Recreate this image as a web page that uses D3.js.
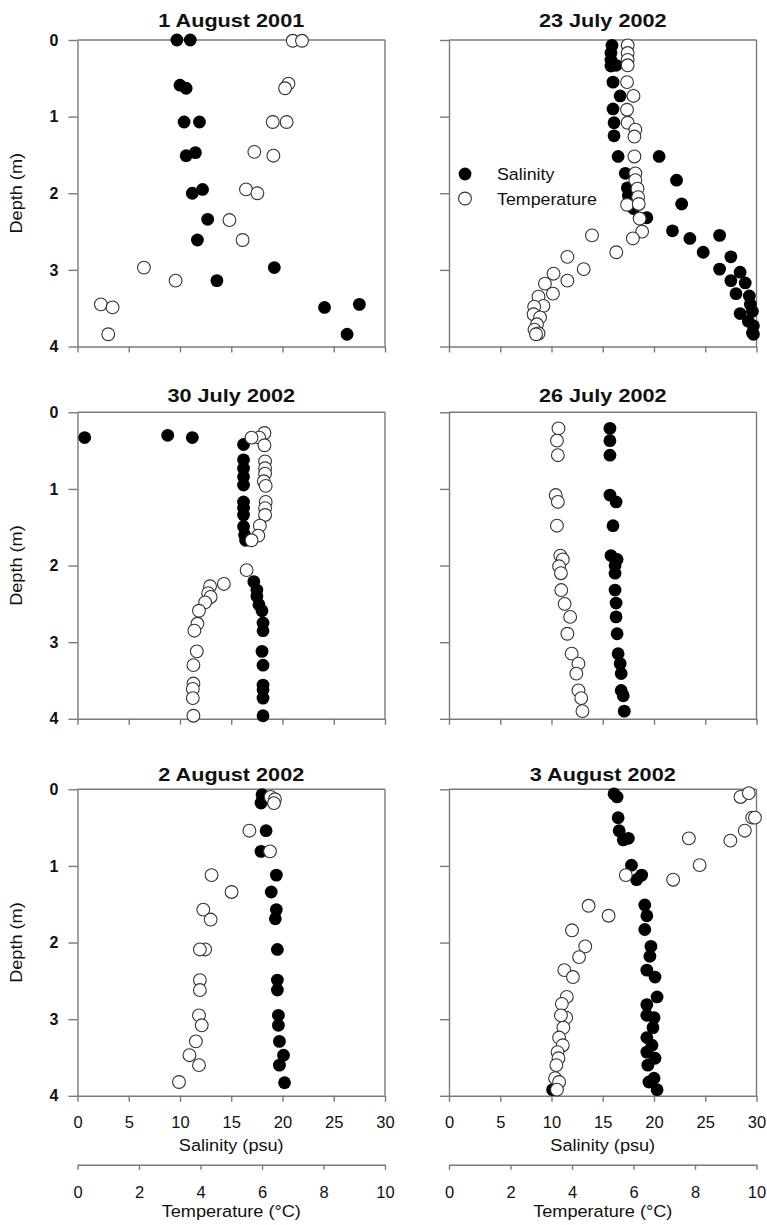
<!DOCTYPE html>
<html>
<head>
<meta charset="utf-8">
<script src="https://cdn.jsdelivr.net/npm/d3@7"></script>
<style>
  body { margin: 0; background: #fff; }
  text { font-family: "Liberation Sans", Arial, sans-serif; fill: #111; }
</style>
</head>
<body>
<div id="graph"></div>
<script>
// profile data: [value, depth (m)] — salinity in psu, temperature in °C
const aug01Sal = [[9.7,0.0],[11.0,0.0],[10.0,0.59],[10.6,0.63],[10.4,1.07],[11.9,1.07],[10.6,1.51],[11.5,1.47],
  [11.2,2.0],[12.2,1.95],[12.7,2.34],[11.7,2.61],[13.6,3.14],[19.2,2.97],[24.1,3.49],[27.5,3.45],[26.3,3.84]];
const aug01Temp = [[7.0,0.01],[7.3,0.01],[6.86,0.57],[6.75,0.63],[6.35,1.07],[6.8,1.07],[5.75,1.46],[6.37,1.51],
  [5.48,1.95],[5.85,2.0],[4.94,2.35],[5.37,2.61],[2.16,2.97],[3.19,3.14],[0.76,3.45],[1.14,3.49],[1.0,3.84]];

const jul23Sal = [[15.9,0.07],[15.8,0.17],[15.8,0.26],[16.3,0.33],[15.8,0.34],[16.0,0.55],[16.7,0.73],[16.0,0.9],
  [16.1,1.08],[16.1,1.25],[16.5,1.52],[20.5,1.52],[17.2,1.74],[22.2,1.83],[17.4,1.93],[17.5,2.03],[22.7,2.14],
  [18.0,2.2],[19.3,2.32],[21.8,2.49],[23.5,2.59],[26.4,2.55],[24.8,2.77],[27.5,2.83],[26.4,2.99],[28.4,3.03],
  [27.5,3.14],[28.9,3.17],[28.0,3.31],[29.3,3.34],[29.4,3.45],[28.4,3.57],[29.6,3.54],[29.2,3.67],[29.7,3.73],
  [29.6,3.82],[29.7,3.84]];
const jul23Temp = [[5.81,0.07],[5.81,0.17],[5.81,0.26],[5.81,0.33],[5.79,0.55],[6.0,0.73],[5.79,0.91],[5.81,1.08],
  [6.06,1.17],[6.03,1.26],[6.03,1.52],[6.06,1.74],[6.06,1.83],[6.13,1.94],[6.15,2.05],[5.79,2.15],[6.17,2.14],
  [6.2,2.33],[6.28,2.5],[5.98,2.59],[4.65,2.55],[5.44,2.77],[3.85,2.83],[4.38,2.99],[3.4,3.05],[3.85,3.14],
  [3.12,3.18],[3.38,3.31],[2.91,3.35],[3.07,3.47],[2.77,3.48],[2.75,3.58],[2.96,3.62],[2.86,3.71],[2.78,3.78],
  [2.91,3.83],[2.83,3.84]];

const jul30Sal = [[0.7,0.33],[8.8,0.3],[11.2,0.33],[16.2,0.42],[16.2,0.62],[16.2,0.73],[16.2,0.84],[16.2,0.95],
  [16.2,1.17],[16.2,1.25],[16.2,1.34],[16.2,1.49],[16.3,1.6],[16.4,1.67],[17.2,2.21],[17.5,2.32],[17.5,2.4],
  [17.7,2.51],[18.0,2.59],[18.1,2.75],[18.1,2.85],[18.0,3.12],[18.1,3.3],[18.1,3.56],[18.1,3.62],[18.1,3.73],
  [18.1,3.96]];
const jul30Temp = [[6.08,0.27],[5.91,0.33],[5.66,0.33],[6.08,0.43],[6.1,0.64],[6.1,0.73],[6.1,0.8],[6.06,0.9],
  [6.12,0.96],[6.12,1.17],[6.1,1.25],[6.1,1.34],[5.93,1.48],[5.88,1.61],[5.66,1.67],[5.5,2.06],[4.76,2.24],
  [4.31,2.27],[4.25,2.36],[4.33,2.41],[4.15,2.48],[3.95,2.59],[3.9,2.76],[3.8,2.85],[3.88,3.12],[3.77,3.3],
  [3.77,3.54],[3.75,3.61],[3.75,3.73],[3.77,3.96]];

const jul26Sal = [[15.7,0.21],[15.7,0.37],[15.7,0.56],[15.7,1.08],[16.3,1.17],[16.0,1.48],[15.8,1.87],[16.4,1.92],
  [16.2,2.0],[16.2,2.1],[16.2,2.32],[16.3,2.49],[16.3,2.67],[16.4,2.89],[16.5,3.15],[16.7,3.28],[16.8,3.41],
  [16.8,3.63],[17.0,3.7],[17.1,3.9]];
const jul26Temp = [[3.56,0.21],[3.51,0.37],[3.54,0.56],[3.47,1.08],[3.54,1.17],[3.51,1.48],[3.62,1.87],[3.7,1.92],
  [3.58,2.01],[3.64,2.1],[3.65,2.32],[3.76,2.5],[3.94,2.67],[3.85,2.89],[3.99,3.15],[4.21,3.28],[4.14,3.41],
  [4.21,3.63],[4.3,3.73],[4.34,3.9]];

const aug02Sal = [[18.0,0.07],[18.0,0.16],[17.9,0.18],[18.4,0.54],[17.9,0.81],[19.4,1.12],[18.9,1.34],[19.4,1.57],
  [19.3,1.69],[19.5,2.09],[19.5,2.49],[19.5,2.62],[19.6,2.95],[19.6,3.08],[19.7,3.29],[20.1,3.47],[19.7,3.6],
  [20.2,3.83]];
const aug02Temp = [[6.28,0.1],[6.42,0.13],[6.39,0.18],[5.59,0.54],[6.26,0.81],[4.36,1.12],[5.01,1.34],[4.09,1.57],
  [4.33,1.7],[4.15,2.09],[3.98,2.09],[3.98,2.49],[3.98,2.62],[3.95,2.95],[4.04,3.08],[3.85,3.29],[3.64,3.47],
  [3.95,3.6],[3.3,3.82]];

const aug03Sal = [[16.1,0.06],[16.4,0.1],[16.5,0.37],[16.6,0.54],[17.0,0.66],[17.5,0.64],[17.8,0.99],[18.8,1.12],
  [18.3,1.18],[19.1,1.51],[19.3,1.65],[19.1,1.83],[19.7,2.05],[19.6,2.18],[19.3,2.36],[20.1,2.45],[20.3,2.71],
  [19.3,2.81],[19.3,2.95],[20.0,2.98],[19.9,3.11],[19.3,3.24],[19.8,3.34],[19.3,3.43],[20.1,3.51],[19.4,3.6],
  [20.0,3.77],[19.5,3.82],[20.3,3.92],[10.1,3.92]];
const aug03Temp = [[9.48,0.1],[9.75,0.05],[9.86,0.37],[9.95,0.37],[9.62,0.54],[9.15,0.67],[7.8,0.64],[8.15,0.99],
  [7.29,1.18],[5.75,1.12],[4.54,1.52],[5.19,1.65],[4.0,1.84],[4.43,2.05],[4.23,2.19],[3.75,2.36],[4.03,2.45],
  [3.83,2.71],[3.67,2.8],[3.81,2.98],[3.64,2.95],[3.72,3.11],[3.58,3.24],[3.7,3.34],[3.53,3.43],[3.56,3.51],
  [3.49,3.6],[3.45,3.77],[3.58,3.82],[3.51,3.92]];

const panelTitles = ["1 August 2001", "23 July 2002", "30 July 2002", "26 July 2002", "2 August 2002", "3 August 2002"];
const salinitySets = [aug01Sal, jul23Sal, jul30Sal, jul26Sal, aug02Sal, aug03Sal];
const temperatureSets = [aug01Temp, jul23Temp, jul30Temp, jul26Temp, aug02Temp, aug03Temp];
const depthTicks = [0, 1, 2, 3, 4];
const salinityTicks = [0, 5, 10, 15, 20, 25, 30];
const temperatureTicks = [0, 2, 4, 6, 8, 10];
const legendLabels = ["Salinity", "Temperature"];

const W = 767, H = 1225;
const colX = [77.5, 449];
const rowY = [40, 412.3, 789.3];
const titleY = [27, 402, 781];
const pw = 307.5, ph = 306.5;
const axisColor = "#7a7a7a";
const R = 6.4;

const svg = d3.select("#graph").append("svg")
  .attr("width", W).attr("height", H);

const x = d3.scaleLinear().domain([0, 30]).range([0, pw]);
const xT = d3.scaleLinear().domain([0, 10]).range([0, pw]);
const y = d3.scaleLinear().domain([0, 4]).range([0, ph]);

function styleAxis(g) {
  g.selectAll(".domain").attr("stroke", axisColor).attr("stroke-width", 1.4);
  g.selectAll(".tick line").attr("stroke", axisColor).attr("stroke-width", 1.4);
  g.selectAll(".tick text").attr("fill", "#111").attr("font-family", "Liberation Sans, Arial, sans-serif");
}

// stretched label helper
function label(g, text, tx, ty, opts) {
  const o = Object.assign({size: 16.5, sx: 1.1, weight: "normal", anchor: "middle", rot: 0}, opts);
  return g.append("text")
    .attr("transform", `translate(${tx},${ty}) rotate(${o.rot}) scale(${o.sx},1)`)
    .attr("text-anchor", o.anchor)
    .attr("font-size", o.size)
    .attr("font-weight", o.weight)
    .text(text);
}

panelTitles.forEach((title, i) => {
  const col = i % 2, row = Math.floor(i / 2);
  const g = svg.append("g").attr("transform", `translate(${colX[col]},${rowY[row]})`);

  // frame: top and right edges
  g.append("line").attr("x1", 0).attr("x2", pw).attr("y1", 0).attr("y2", 0)
    .attr("stroke", axisColor).attr("stroke-width", 1.4);
  g.append("line").attr("x1", pw).attr("x2", pw).attr("y1", 0).attr("y2", ph)
    .attr("stroke", axisColor).attr("stroke-width", 1.4);

  const yAxis = g.append("g")
    .call(d3.axisLeft(y).tickValues(depthTicks).tickSize(9).tickSizeOuter(0).tickPadding(10)
      .tickFormat(col === 0 ? d3.format("d") : () => ""));
  styleAxis(yAxis);
  yAxis.selectAll(".tick text").attr("font-size", 16).attr("font-weight", "bold");

  const xAxis = g.append("g").attr("transform", `translate(0,${ph})`)
    .call(d3.axisBottom(x).tickValues(salinityTicks).tickSize(6).tickSizeOuter(0).tickPadding(14)
      .tickFormat(row === 2 ? d3.format("d") : () => ""));
  styleAxis(xAxis);
  xAxis.selectAll(".tick text").attr("font-size", 16.5);

  if (col === 0) {
    label(g, "Depth (m)", -56, ph / 2, {rot: -90, size: 16.5});
  }
  label(svg, title, colX[col] + pw / 2, titleY[row], {size: 19, sx: 1.14, weight: "bold"});

  // salinity first, temperature circles sit on top
  g.append("g").selectAll("circle").data(salinitySets[i]).join("circle")
    .attr("cx", d => x(d[0])).attr("cy", d => y(d[1])).attr("r", R)
    .attr("fill", "#000");
  g.append("g").selectAll("circle").data(temperatureSets[i]).join("circle")
    .attr("cx", d => xT(d[0])).attr("cy", d => y(d[1])).attr("r", R)
    .attr("fill", "#fff").attr("stroke", "#333").attr("stroke-width", 1.1);

  if (row === 2) {
    label(g, "Salinity (psu)", pw / 2, ph + 55, {size: 16.5});
    const tAxis = g.append("g").attr("transform", `translate(0,${ph + 69})`)
      .call(d3.axisBottom(xT).tickValues(temperatureTicks).tickSize(5).tickSizeOuter(0).tickPadding(16)
        .tickFormat(d3.format("d")));
    styleAxis(tAxis);
    tAxis.selectAll(".tick text").attr("font-size", 16.5);
    label(g, "Temperature (°C)", pw / 2, ph + 121, {size: 16.5});
  }

  if (i === 1) {
    const lg = g.append("g").attr("transform", "translate(16,134)");
    legendLabels.forEach((name, k) => {
      lg.append("circle").attr("cx", 0).attr("cy", k * 24.5).attr("r", R)
        .attr("fill", k === 0 ? "#000" : "#fff")
        .attr("stroke", k === 0 ? "none" : "#333").attr("stroke-width", 1.1);
      label(lg, name, 32, k * 24.5 + 6, {anchor: "start", size: 16.5, sx: 1.08});
    });
  }
});
</script>
</body>
</html>
